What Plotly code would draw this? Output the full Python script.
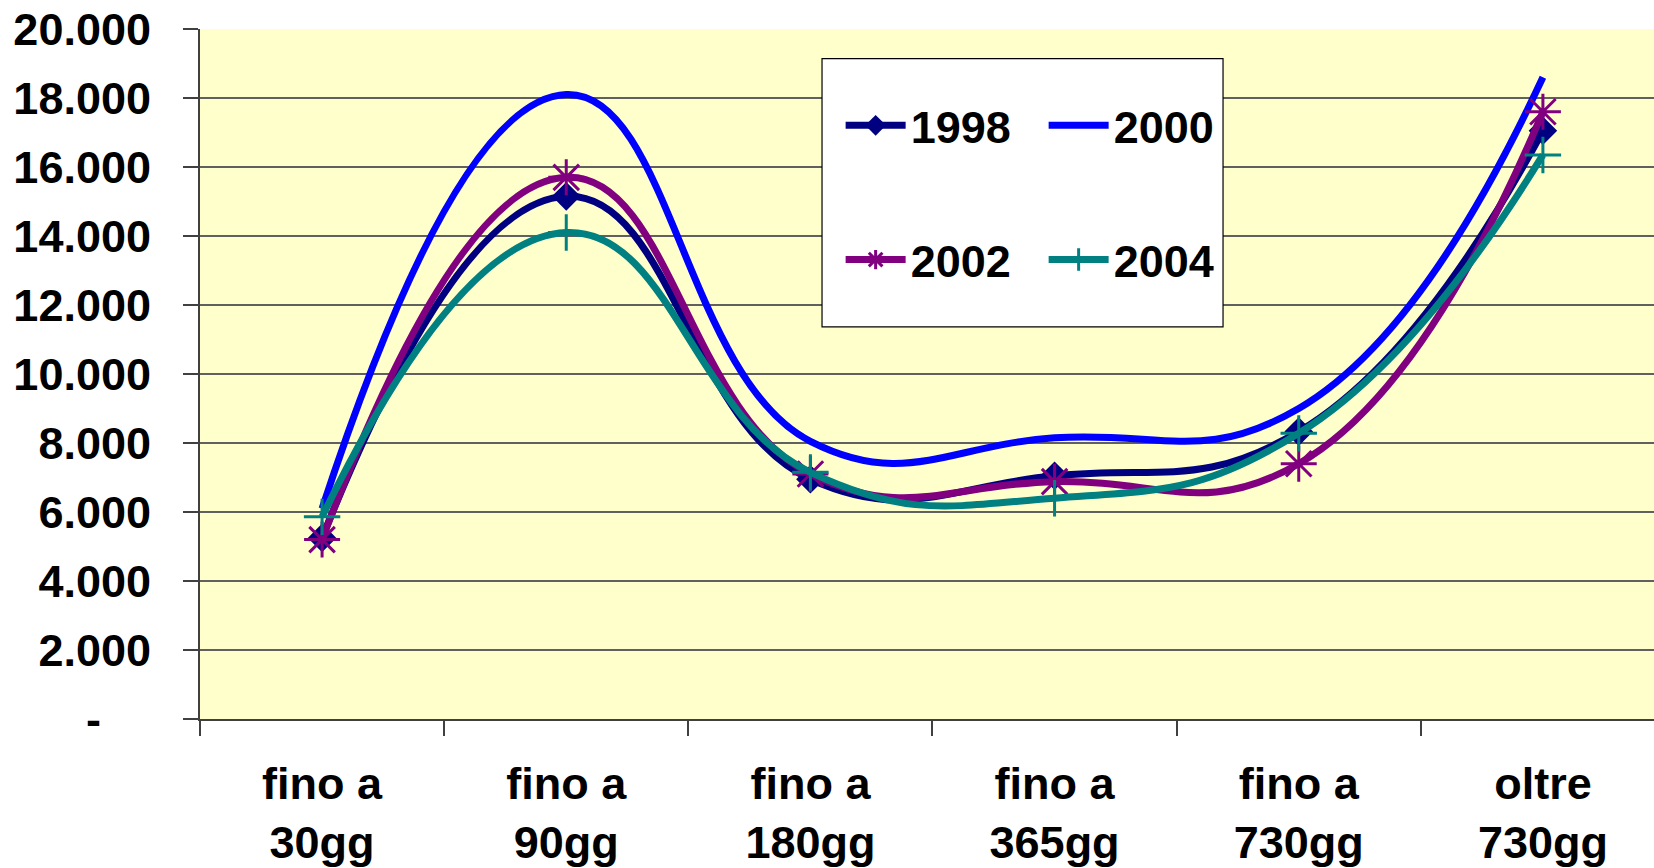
import plotly.graph_objects as go

categories = ["fino a<br>30gg", "fino a<br>90gg", "fino a<br>180gg",
              "fino a<br>365gg", "fino a<br>730gg", "oltre<br>730gg"]
v1998 = [5250, 15150, 6950, 7050, 8330, 17050]
v2000 = [6100, 18100, 8050, 8150, 9000, 18600]
v2002 = [5200, 15700, 7100, 6880, 7400, 17600]
v2004 = [5860, 14100, 7150, 6400, 8280, 16350]
ytick_vals = [0, 2000, 4000, 6000, 8000, 10000, 12000, 14000, 16000, 18000, 20000]
ytick_text = ["-\u00a0\u00a0\u00a0\u00a0", "2.000", "4.000", "6.000", "8.000", "10.000",
              "12.000", "14.000", "16.000", "18.000", "20.000"]

FONT = "Liberation Sans, Arial, sans-serif"
SMOOTH = 1.3

fig = go.Figure()
fig.add_trace(go.Scatter(x=categories, y=v1998, name="1998", mode="lines+markers",
                         line=dict(color="#000080", width=7, shape="spline", smoothing=SMOOTH),
                         marker=dict(symbol="diamond", size=22, color="#000080"),
                         legend="legend"))
fig.add_trace(go.Scatter(x=categories, y=v2000, name="2000", mode="lines",
                         line=dict(color="#0000FF", width=7, shape="spline", smoothing=SMOOTH),
                         legend="legend"))
fig.add_trace(go.Scatter(x=categories, y=v2002, name="2002", mode="lines+markers",
                         line=dict(color="#800080", width=7, shape="spline", smoothing=SMOOTH),
                         marker=dict(symbol="asterisk-open", size=30,
                                     line=dict(color="#800080", width=3)),
                         legend="legend2"))
fig.add_trace(go.Scatter(x=categories, y=v2004, name="2004", mode="lines+markers",
                         line=dict(color="#008080", width=7, shape="spline", smoothing=SMOOTH),
                         marker=dict(symbol="cross-thin-open", size=26,
                                     line=dict(color="#008080", width=3)),
                         legend="legend2"))

legend_common = dict(orientation="h", font=dict(family=FONT, size=45, color="black", weight="bold"),
                     bgcolor="rgba(0,0,0,0)", borderwidth=0, itemwidth=60,
                     entrywidth=128, xanchor="left", yanchor="middle", xref="paper", yref="paper")

fig.update_layout(
    width=1654, height=868,
    margin=dict(l=200, r=0, t=29, b=149),
    paper_bgcolor="white", plot_bgcolor="#FFFFCC",
    font=dict(family=FONT, size=45, color="black", weight="bold"),
    showlegend=True,
    legend=dict(x=0.4406, y=0.86, **legend_common),
    legend2=dict(x=0.4406, y=0.6655, **legend_common),
    xaxis=dict(type="category", categoryorder="array", categoryarray=categories,
               range=[-0.5, 5.455], tickson="boundaries", ticks="outside", ticklen=15,
               tickcolor="#404040", tickwidth=1.5, showline=True, linecolor="#404040",
               linewidth=2, showgrid=False, ticklabelstandoff=24, automargin=False,
               tickfont=dict(family=FONT, size=45, color="black", weight="bold")),
    yaxis=dict(range=[0, 20000], tickvals=ytick_vals, ticktext=ytick_text,
               ticks="outside", ticklen=15, tickcolor="#404040", tickwidth=1.5,
               showline=True, linecolor="#404040", linewidth=2, showgrid=True,
               gridcolor="#606060", gridwidth=1.5, zeroline=False, ticklabelstandoff=23,
               automargin=False,
               tickfont=dict(family=FONT, size=45, color="black", weight="bold")),
    shapes=[dict(type="rect", xref="paper", yref="paper", x0=0.4278, x1=0.7036,
                 y0=0.5684, y1=0.957, fillcolor="white", line=dict(color="black", width=1.2),
                 layer="above")],
)

fig.write_html("out.html", post_script="document.body.style.margin='0';",
               config={"displayModeBar": False})
